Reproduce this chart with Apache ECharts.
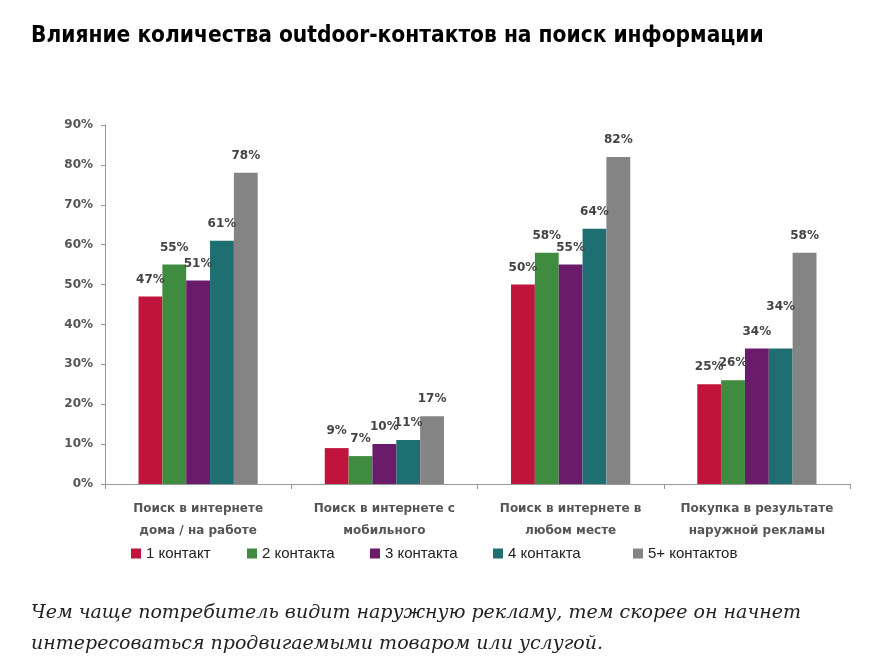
<!DOCTYPE html>
<html><head><meta charset="utf-8">
<script src="https://cdn.jsdelivr.net/npm/echarts@6/dist/echarts.min.js"></script>
<style>html,body{margin:0;padding:0;background:#fff}#c{width:870px;height:660px}</style>
</head><body><div id="c"></div>
<script>
const categories = ["Поиск в интернете\nдома / на работе", "Поиск в интернете с\nмобильного", "Поиск в интернете в\nлюбом месте", "Покупка в результате\nнаружной рекламы"];
const seriesNames = ["1 контакт", "2 контакта", "3 контакта", "4 контакта", "5+ контактов"];
const s1 = [47, 9, 50, 25];
const s2 = [55, 7, 58, 26];
const s3 = [51, 10, 55, 34];
const s4 = [61, 11, 64, 34];
const s5 = [78, 17, 82, 58];
const yTicks = [0, 10, 20, 30, 40, 50, 60, 70, 80, 90];
const colors = ["#C0143C", "#3F8B3F", "#6A1B6A", "#1E6E72", "#848484"];
const legendLeft = [126, 242, 365, 488, 628];

const allSeries = [s1, s2, s3, s4, s5];
const chart = echarts.init(document.getElementById('c'));
chart.setOption({
  animation: false,
  title: [
    { text: "Влияние количества outdoor-контактов на поиск информации", left: 26, top: 20,
      textStyle: { fontFamily: "DejaVu Sans Condensed", fontWeight: 'bold', fontSize: 22.5, color: "#000" } },
    { text: "Чем чаще потребитель видит наружную рекламу, тем скорее он начнет\nинтересоваться продвигаемыми товаром или услугой.", left: 26, top: 593,
      textStyle: { fontFamily: "DejaVu Serif", fontStyle: "italic", fontWeight: "normal", fontSize: 19, lineHeight: 31, color: "#222" } }
  ],
  legend: seriesNames.map((n, i) => ({
    data: [n], left: legendLeft[i], top: 541, itemWidth: 10, itemHeight: 10, itemGap: 0,
    icon: 'rect', textStyle: { fontSize: 15, color: "#222", fontFamily: "Liberation Sans" }
  })),
  grid: { left: 105, right: 20, top: 125, bottom: 176 },
  xAxis: {
    type: 'category', data: categories,
    axisLine: { lineStyle: { color: "#999" } },
    axisTick: { show: true, length: 5, lineStyle: { color: "#999" } },
    axisLabel: { margin: 14, fontSize: 12, fontWeight: 'bold', fontFamily: "DejaVu Sans", color: "#555", lineHeight: 22, interval: 0 }
  },
  yAxis: {
    type: 'value', min: yTicks[0], max: yTicks[yTicks.length - 1], interval: 10,
    splitLine: { show: false },
    axisLine: { show: true, lineStyle: { color: "#999" } },
    axisTick: { show: true, length: 4, lineStyle: { color: "#999" } },
    axisLabel: { formatter: '{value}%', fontSize: 12, fontWeight: 'bold', fontFamily: "DejaVu Sans", color: "#555", margin: 12 }
  },
  series: allSeries.map((d, i) => ({
    name: seriesNames[i], type: 'bar', barGap: '0%', barCategoryGap: '36%',
    data: d.map((v, j) => (i === 3 && j === 3) ? { value: v, label: { distance: 36 } } : v),
    itemStyle: { color: colors[i] },
    label: { show: true, position: 'top', distance: 11, formatter: '{c}%', fontSize: 12, fontWeight: 'bold', fontFamily: "DejaVu Sans", color: "#444" }
  }))
});
</script></body></html>
